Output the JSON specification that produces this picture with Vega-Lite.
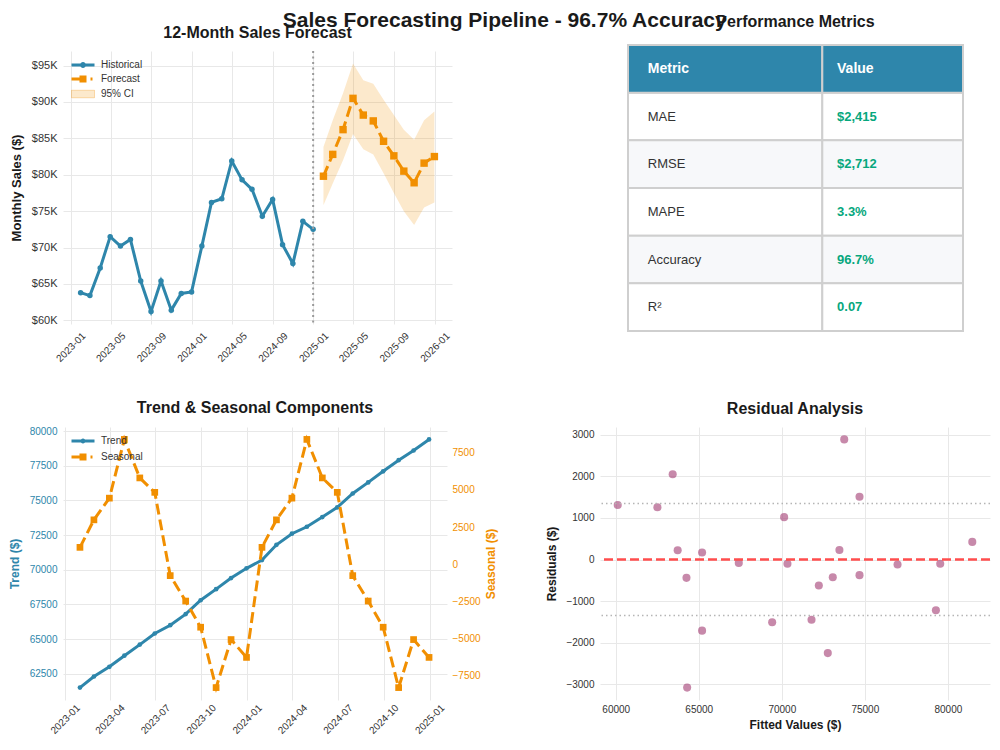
{
  "$schema": "https://vega.github.io/schema/vega-lite/v6.json",
  "background": "#ffffff",
  "padding": {"left": 8, "top": 10, "right": 5, "bottom": 5},
  "title": {
    "text": "Sales Forecasting Pipeline - 96.7% Accuracy",
    "fontSize": 21,
    "fontWeight": "bold",
    "color": "#1a1a1a",
    "anchor": "middle",
    "frame": "bounds",
    "offset": -17,
    "dx": 5
  },
  "config": {
    "font": "Liberation Sans",
    "view": {"stroke": null},
    "axis": {
      "domain": false,
      "ticks": false,
      "grid": true,
      "gridColor": "#e8e8e8",
      "gridWidth": 1,
      "labelColor": "#333333",
      "labelFontSize": 10,
      "titleFontSize": 12,
      "titleFontWeight": "bold",
      "titleColor": "#1a1a1a"
    },
    "title": {"fontSize": 16, "fontWeight": "bold", "color": "#1a1a1a", "anchor": "middle", "frame": "group"},
    "legend": {"labelFontSize": 10, "labelColor": "#333333"}
  },
  "datasets": {
    "historical": [
      {"date": "2023-01-31", "sales": 63800},
      {"date": "2023-02-28", "sales": 63400},
      {"date": "2023-03-31", "sales": 67200},
      {"date": "2023-04-30", "sales": 71500},
      {"date": "2023-05-31", "sales": 70200},
      {"date": "2023-06-30", "sales": 71100},
      {"date": "2023-07-31", "sales": 65400},
      {"date": "2023-08-31", "sales": 61200},
      {"date": "2023-09-30", "sales": 65400},
      {"date": "2023-10-31", "sales": 61400},
      {"date": "2023-11-30", "sales": 63700},
      {"date": "2023-12-31", "sales": 63900},
      {"date": "2024-01-31", "sales": 70200},
      {"date": "2024-02-29", "sales": 76200},
      {"date": "2024-03-31", "sales": 76700},
      {"date": "2024-04-30", "sales": 81900},
      {"date": "2024-05-31", "sales": 79300},
      {"date": "2024-06-30", "sales": 78000},
      {"date": "2024-07-31", "sales": 74300},
      {"date": "2024-08-31", "sales": 76600},
      {"date": "2024-09-30", "sales": 70400},
      {"date": "2024-10-31", "sales": 67800},
      {"date": "2024-11-30", "sales": 73600},
      {"date": "2024-12-31", "sales": 72500}
    ],
    "forecast": [
      {"date": "2025-01-31", "forecast": 79800, "lower": 75800, "upper": 83800},
      {"date": "2025-02-28", "forecast": 82800, "lower": 78800, "upper": 87500},
      {"date": "2025-03-31", "forecast": 86200, "lower": 82000, "upper": 91200},
      {"date": "2025-04-30", "forecast": 90500, "lower": 85600, "upper": 95300},
      {"date": "2025-05-31", "forecast": 88200, "lower": 83500, "upper": 93000},
      {"date": "2025-06-30", "forecast": 87400, "lower": 82800, "upper": 92500},
      {"date": "2025-07-31", "forecast": 84600, "lower": 80200, "upper": 90300},
      {"date": "2025-08-31", "forecast": 82600, "lower": 77500, "upper": 88200},
      {"date": "2025-09-30", "forecast": 80500, "lower": 75000, "upper": 86200},
      {"date": "2025-10-31", "forecast": 78900, "lower": 73100, "upper": 84800},
      {"date": "2025-11-30", "forecast": 81600, "lower": 75500, "upper": 87500},
      {"date": "2025-12-31", "forecast": 82500, "lower": 76200, "upper": 88700}
    ],
    "cutoff": [{"date": "2024-12-31"}],
    "components": [
      {"date": "2023-01-31", "trend": 61500, "seasonal": 1140},
      {"date": "2023-02-28", "trend": 62300, "seasonal": 2990},
      {"date": "2023-03-31", "trend": 63000, "seasonal": 4450},
      {"date": "2023-04-30", "trend": 63800, "seasonal": 8400},
      {"date": "2023-05-31", "trend": 64600, "seasonal": 5810},
      {"date": "2023-06-30", "trend": 65400, "seasonal": 4840},
      {"date": "2023-07-31", "trend": 66000, "seasonal": -760},
      {"date": "2023-08-31", "trend": 66800, "seasonal": -2470},
      {"date": "2023-09-30", "trend": 67800, "seasonal": -4230},
      {"date": "2023-10-31", "trend": 68600, "seasonal": -8290},
      {"date": "2023-11-30", "trend": 69400, "seasonal": -5060},
      {"date": "2023-12-31", "trend": 70100, "seasonal": -6260},
      {"date": "2024-01-31", "trend": 70700, "seasonal": 1140},
      {"date": "2024-02-29", "trend": 71800, "seasonal": 2990},
      {"date": "2024-03-31", "trend": 72600, "seasonal": 4450},
      {"date": "2024-04-30", "trend": 73100, "seasonal": 8400},
      {"date": "2024-05-31", "trend": 73800, "seasonal": 5810},
      {"date": "2024-06-30", "trend": 74500, "seasonal": 4840},
      {"date": "2024-07-31", "trend": 75500, "seasonal": -760},
      {"date": "2024-08-31", "trend": 76300, "seasonal": -2470},
      {"date": "2024-09-30", "trend": 77100, "seasonal": -4230},
      {"date": "2024-10-31", "trend": 77900, "seasonal": -8290},
      {"date": "2024-11-30", "trend": 78600, "seasonal": -5060},
      {"date": "2024-12-31", "trend": 79400, "seasonal": -6260}
    ],
    "residuals": [
      {"fitted": 60120, "residual": 1310},
      {"fitted": 62510, "residual": 1260},
      {"fitted": 63430, "residual": 2050},
      {"fitted": 63730, "residual": 225},
      {"fitted": 64260, "residual": -440},
      {"fitted": 64300, "residual": -3080},
      {"fitted": 65200, "residual": 170},
      {"fitted": 65200, "residual": -1710},
      {"fitted": 67410, "residual": -80},
      {"fitted": 69420, "residual": -1510},
      {"fitted": 70140, "residual": 1020},
      {"fitted": 70340, "residual": -100},
      {"fitted": 71790, "residual": -1450},
      {"fitted": 72230, "residual": -625},
      {"fitted": 72770, "residual": -2250},
      {"fitted": 73070, "residual": -425},
      {"fitted": 73470, "residual": 230},
      {"fitted": 73760, "residual": 2890},
      {"fitted": 74680, "residual": -375},
      {"fitted": 74680, "residual": 1510},
      {"fitted": 76970, "residual": -120},
      {"fitted": 79280, "residual": -1220},
      {"fitted": 79540, "residual": -100},
      {"fitted": 81470, "residual": 425}
    ],
    "metrics": [
      {"Metric": "MAE", "Value": "$2,415"},
      {"Metric": "RMSE", "Value": "$2,712"},
      {"Metric": "MAPE", "Value": "3.3%"},
      {"Metric": "Accuracy", "Value": "96.7%"},
      {"Metric": "R²", "Value": "0.07"}
    ],
    "header": [{"label": "Metric"}, {"label": "Value"}]
  },
  "spacing": 36,
  "resolve": {"scale": {"color": "independent"}, "legend": {"color": "independent"}},
  "vconcat": [
    {
      "bounds": "flush",
      "spacing": 176,
      "resolve": {"scale": {"color": "independent"}, "legend": {"color": "independent"}},
      "hconcat": [
        {
          "width": 389,
          "height": 273,
          "title": {"text": "12-Month Sales Forecast", "offset": 9},
          "layer": [
            {
              "data": {"name": "historical"},
              "mark": {"type": "line", "strokeWidth": 3, "point": {"filled": true, "size": 30}},
              "encoding": {
                "x": {
                  "field": "date",
                  "type": "temporal",
                  "scale": {"type": "utc", "domain": [{"year": 2022, "month": 12, "date": 9, "utc": true}, {"year": 2026, "month": 2, "date": 22, "utc": true}]},
                  "axis": {"title": null, "format": "%Y-%m", "tickCount": {"interval": "month", "step": 4}, "labelAngle": -45, "labelAlign": "center", "labelBaseline": "middle", "labelPadding": 23, "labelFlush": false, "labelOverlap": false}
                },
                "y": {
                  "field": "sales",
                  "type": "quantitative",
                  "scale": {"domain": [59495, 97005], "nice": false, "zero": false},
                  "axis": {"title": "Monthly Sales ($)", "titleFontSize": 13, "values": [60000, 65000, 70000, 75000, 80000, 85000, 90000, 95000], "tickCount": 8, "labelExpr": "'$' + format(datum.value / 1000, 'd') + 'K'", "labelFontSize": 11, "labelPadding": 6, "titlePadding": 8, "labelOverlap": false}
                },
                "color": {
                  "datum": "Historical",
                  "scale": {"domain": ["Historical", "Forecast", "95% CI"], "range": ["#2E86AB", "#F18F01", "#F18F01"]},
                  "legend": {
                    "title": null,
                    "orient": "none",
                    "legendX": 15,
                    "legendY": 9,
                    "direction": "vertical",
                    "padding": 0,
                    "symbolSize": 100,
                    "labelOffset": 13,
                    "rowPadding": 4,
                    "labelFontSize": 10,
                    "encode": {
                      "symbols": {
                        "update": {
                          "shape": {"signal": "datum.value === 'Historical' ? 'M-2.3,-0.3L2.3,-0.3L2.3,0.3L-2.3,0.3Z M-0.6,0A0.6,0.6 0 1,1 0.6,0A0.6,0.6 0 1,1 -0.6,0Z' : datum.value === 'Forecast' ? 'M-2.3,-0.3L-0.6,-0.3L-0.6,0.3L-2.3,0.3Z M-0.7,-0.7L0.7,-0.7L0.7,0.7L-0.7,0.7Z M1.5,-0.3L1.9,-0.3L1.9,0.3L1.5,0.3Z' : 'M-2.3,-0.75L2.3,-0.75L2.3,0.75L-2.3,0.75Z'"},
                          "fill": {"signal": "datum.value === 'Historical' ? '#2E86AB' : '#F18F01'"},
                          "fillOpacity": {"signal": "datum.value === '95% CI' ? 0.2 : 1"},
                          "stroke": {"value": "#F18F01"},
                          "strokeOpacity": {"value": 0.3},
                          "strokeWidth": {"signal": "datum.value === '95% CI' ? 1 : 0"},
                          "strokeDash": {"value": [1, 0]},
                          "opacity": {"value": 1}
                        }
                      }
                    }
                  }
                }
              }
            },
            {
              "data": {"name": "forecast"},
              "mark": {"type": "area", "fillOpacity": 0.2},
              "encoding": {
                "x": {"field": "date", "type": "temporal"},
                "y": {"field": "lower", "type": "quantitative"},
                "y2": {"field": "upper"},
                "color": {"datum": "95% CI"}
              }
            },
            {
              "data": {"name": "forecast"},
              "mark": {"type": "line", "strokeWidth": 3, "strokeDash": [11, 5], "point": {"filled": true, "shape": "square", "size": 55}},
              "encoding": {
                "x": {"field": "date", "type": "temporal"},
                "y": {"field": "forecast", "type": "quantitative"},
                "color": {"datum": "Forecast"}
              }
            },
            {
              "data": {"name": "cutoff"},
              "mark": {"type": "rule", "color": "#999999", "strokeWidth": 2, "strokeDash": [2, 3.5]},
              "encoding": {"x": {"field": "date", "type": "temporal"}}
            }
          ]
        },
        {
          "width": 335,
          "height": 273,
          "title": {"text": "Performance Metrics", "offset": 14},
          "layer": [
            {
              "data": {"name": "metrics"},
              "transform": [{"window": [{"op": "row_number", "as": "idx"}]}],
              "mark": {"type": "rect", "stroke": "#cfcfcf", "strokeWidth": 2},
              "encoding": {
                "x": {"datum": 0, "type": "quantitative", "scale": {"domain": [0, 1], "nice": false, "zero": false}, "axis": null},
                "x2": {"datum": 0.58},
                "y": {"field": "Metric", "type": "nominal", "sort": null, "scale": {"domain": ["Metric", "MAE", "RMSE", "MAPE", "Accuracy", "R²"], "range": [-6, 280], "paddingInner": 0, "paddingOuter": 0}, "axis": null},
                "fill": {"condition": {"test": "datum.idx % 2 === 0", "value": "#f7f8fa"}, "value": "#ffffff"}
              }
            },
            {
              "data": {"name": "metrics"},
              "transform": [{"window": [{"op": "row_number", "as": "idx"}]}],
              "mark": {"type": "rect", "stroke": "#cfcfcf", "strokeWidth": 2},
              "encoding": {
                "x": {"datum": 0.58, "type": "quantitative"},
                "x2": {"datum": 1},
                "y": {"field": "Metric", "type": "nominal"},
                "fill": {"condition": {"test": "datum.idx % 2 === 0", "value": "#f7f8fa"}, "value": "#ffffff"}
              }
            },
            {
              "data": {"name": "header"},
              "transform": [{"filter": "datum.label === 'Metric'"}],
              "mark": {"type": "rect", "fill": "#2E86AB", "stroke": "#cfcfcf", "strokeWidth": 2},
              "encoding": {
                "x": {"datum": 0, "type": "quantitative"},
                "x2": {"datum": 0.58},
                "y": {"datum": "Metric", "type": "nominal"}
              }
            },
            {
              "data": {"name": "header"},
              "transform": [{"filter": "datum.label === 'Value'"}],
              "mark": {"type": "rect", "fill": "#2E86AB", "stroke": "#cfcfcf", "strokeWidth": 2},
              "encoding": {
                "x": {"datum": 0.58, "type": "quantitative"},
                "x2": {"datum": 1},
                "y": {"datum": "Metric", "type": "nominal"}
              }
            },
            {
              "data": {"name": "header"},
              "transform": [{"filter": "datum.label === 'Metric'"}],
              "mark": {"type": "text", "align": "left", "baseline": "middle", "fontSize": 14, "fontWeight": "bold", "color": "#ffffff"},
              "encoding": {
                "x": {"datum": 0.059, "type": "quantitative"},
                "y": {"datum": "Metric", "type": "nominal"},
                "text": {"field": "label"}
              }
            },
            {
              "data": {"name": "header"},
              "transform": [{"filter": "datum.label === 'Value'"}],
              "mark": {"type": "text", "align": "left", "baseline": "middle", "fontSize": 14, "fontWeight": "bold", "color": "#ffffff"},
              "encoding": {
                "x": {"datum": 0.624, "type": "quantitative"},
                "y": {"datum": "Metric", "type": "nominal"},
                "text": {"field": "label"}
              }
            },
            {
              "data": {"name": "metrics"},
              "mark": {"type": "text", "align": "left", "baseline": "middle", "fontSize": 13, "color": "#333333"},
              "encoding": {
                "x": {"datum": 0.059, "type": "quantitative"},
                "y": {"field": "Metric", "type": "nominal"},
                "text": {"field": "Metric"}
              }
            },
            {
              "data": {"name": "metrics"},
              "mark": {"type": "text", "align": "left", "baseline": "middle", "fontSize": 13, "fontWeight": "bold", "color": "#06A77D"},
              "encoding": {
                "x": {"datum": 0.624, "type": "quantitative"},
                "y": {"field": "Metric", "type": "nominal"},
                "text": {"field": "Value"}
              }
            }
          ]
        }
      ]
    },
    {
      "bounds": "flush",
      "spacing": 153,
      "resolve": {"scale": {"color": "independent"}, "legend": {"color": "independent"}},
      "hconcat": [
        {
          "width": 384,
          "height": 273,
          "title": {"text": "Trend & Seasonal Components", "offset": 10},
          "data": {"name": "components"},
          "layer": [
            {
              "mark": {"type": "line", "strokeWidth": 3, "point": {"filled": true, "size": 22}},
              "encoding": {
                "x": {
                  "field": "date",
                  "type": "temporal",
                  "scale": {"type": "utc", "domain": [{"year": 2022, "month": 12, "date": 28, "utc": true}, {"year": 2025, "month": 2, "date": 5, "utc": true}]},
                  "axis": {"title": null, "format": "%Y-%m", "tickCount": {"interval": "month", "step": 3}, "labelAngle": -45, "labelAlign": "center", "labelBaseline": "middle", "labelPadding": 19, "labelFlush": false, "labelOverlap": false}
                },
                "y": {
                  "field": "trend",
                  "type": "quantitative",
                  "scale": {"domain": [60605, 80295], "nice": false, "zero": false},
                  "axis": {"orient": "left", "title": "Trend ($)", "titleColor": "#2E86AB", "labelColor": "#2E86AB", "values": [62500, 65000, 67500, 70000, 72500, 75000, 77500, 80000], "format": "d", "labelPadding": 6, "titlePadding": 8, "labelOverlap": false}
                },
                "color": {
                  "datum": "Trend",
                  "scale": {"domain": ["Trend", "Seasonal"], "range": ["#2E86AB", "#F18F01"]},
                  "legend": {
                    "title": null,
                    "orient": "none",
                    "legendX": 15,
                    "legendY": 9,
                    "direction": "vertical",
                    "padding": 0,
                    "symbolSize": 100,
                    "labelOffset": 13,
                    "rowPadding": 6,
                    "labelFontSize": 10,
                    "encode": {
                      "symbols": {
                        "update": {
                          "shape": {"signal": "datum.value === 'Trend' ? 'M-2.3,-0.3L2.3,-0.3L2.3,0.3L-2.3,0.3Z M-0.5,0A0.5,0.5 0 1,1 0.5,0A0.5,0.5 0 1,1 -0.5,0Z' : 'M-2.3,-0.3L-0.6,-0.3L-0.6,0.3L-2.3,0.3Z M-0.7,-0.7L0.7,-0.7L0.7,0.7L-0.7,0.7Z M1.5,-0.3L1.9,-0.3L1.9,0.3L1.5,0.3Z'"},
                          "fill": {"signal": "datum.value === 'Trend' ? '#2E86AB' : '#F18F01'"},
                          "fillOpacity": {"value": 1},
                          "strokeWidth": {"value": 0},
                          "strokeDash": {"value": [1, 0]},
                          "opacity": {"value": 1}
                        }
                      }
                    }
                  }
                }
              }
            },
            {
              "mark": {"type": "line", "strokeWidth": 3, "strokeDash": [11, 5], "point": {"filled": true, "shape": "square", "size": 45}},
              "encoding": {
                "x": {"field": "date", "type": "temporal"},
                "y": {
                  "field": "seasonal",
                  "type": "quantitative",
                  "scale": {"domain": [-9124, 9234], "nice": false, "zero": false},
                  "axis": {"orient": "right", "title": "Seasonal ($)", "titleAngle": 270, "titleColor": "#F18F01", "labelColor": "#F18F01", "values": [-7500, -5000, -2500, 0, 2500, 5000, 7500], "format": "d", "labelPadding": 5, "titlePadding": 17, "labelOverlap": false}
                },
                "color": {"datum": "Seasonal"}
              }
            }
          ],
          "resolve": {"scale": {"y": "independent"}}
        },
        {
          "width": 390,
          "height": 273,
          "title": {"text": "Residual Analysis", "offset": 10},
          "layer": [
            {
              "data": {"name": "residuals"},
              "mark": {"type": "circle", "size": 65, "color": "#A23B72", "opacity": 0.6},
              "encoding": {
                "x": {
                  "field": "fitted",
                  "type": "quantitative",
                  "scale": {"domain": [59053, 82537], "nice": false, "zero": false},
                  "axis": {"title": "Fitted Values ($)", "values": [60000, 65000, 70000, 75000, 80000], "format": "d", "labelPadding": 4, "titlePadding": 5, "labelFlush": false}
                },
                "y": {
                  "field": "residual",
                  "type": "quantitative",
                  "scale": {"domain": [-3378, 3188], "nice": false, "zero": false},
                  "axis": {"title": "Residuals ($)", "values": [-3000, -2000, -1000, 0, 1000, 2000, 3000], "format": "d", "labelPadding": 6, "titlePadding": 7, "labelOverlap": false}
                }
              }
            },
            {
              "data": {"values": [{}]},
              "mark": {"type": "rule", "color": "#ff4d4d", "strokeWidth": 2.5, "strokeDash": [9, 4]},
              "encoding": {"y": {"datum": 0, "type": "quantitative"}}
            },
            {
              "data": {"name": "residuals"},
              "transform": [{"aggregate": [{"op": "stdevp", "field": "residual", "as": "sd"}]}],
              "mark": {"type": "rule", "color": "#b5b5b5", "strokeWidth": 1.5, "strokeDash": [1.5, 3]},
              "encoding": {"y": {"field": "sd", "type": "quantitative"}}
            },
            {
              "data": {"name": "residuals"},
              "transform": [{"aggregate": [{"op": "stdevp", "field": "residual", "as": "sd"}]}, {"calculate": "-datum.sd", "as": "neg_sd"}],
              "mark": {"type": "rule", "color": "#b5b5b5", "strokeWidth": 1.5, "strokeDash": [1.5, 3]},
              "encoding": {"y": {"field": "neg_sd", "type": "quantitative"}}
            }
          ]
        }
      ]
    }
  ]
}
